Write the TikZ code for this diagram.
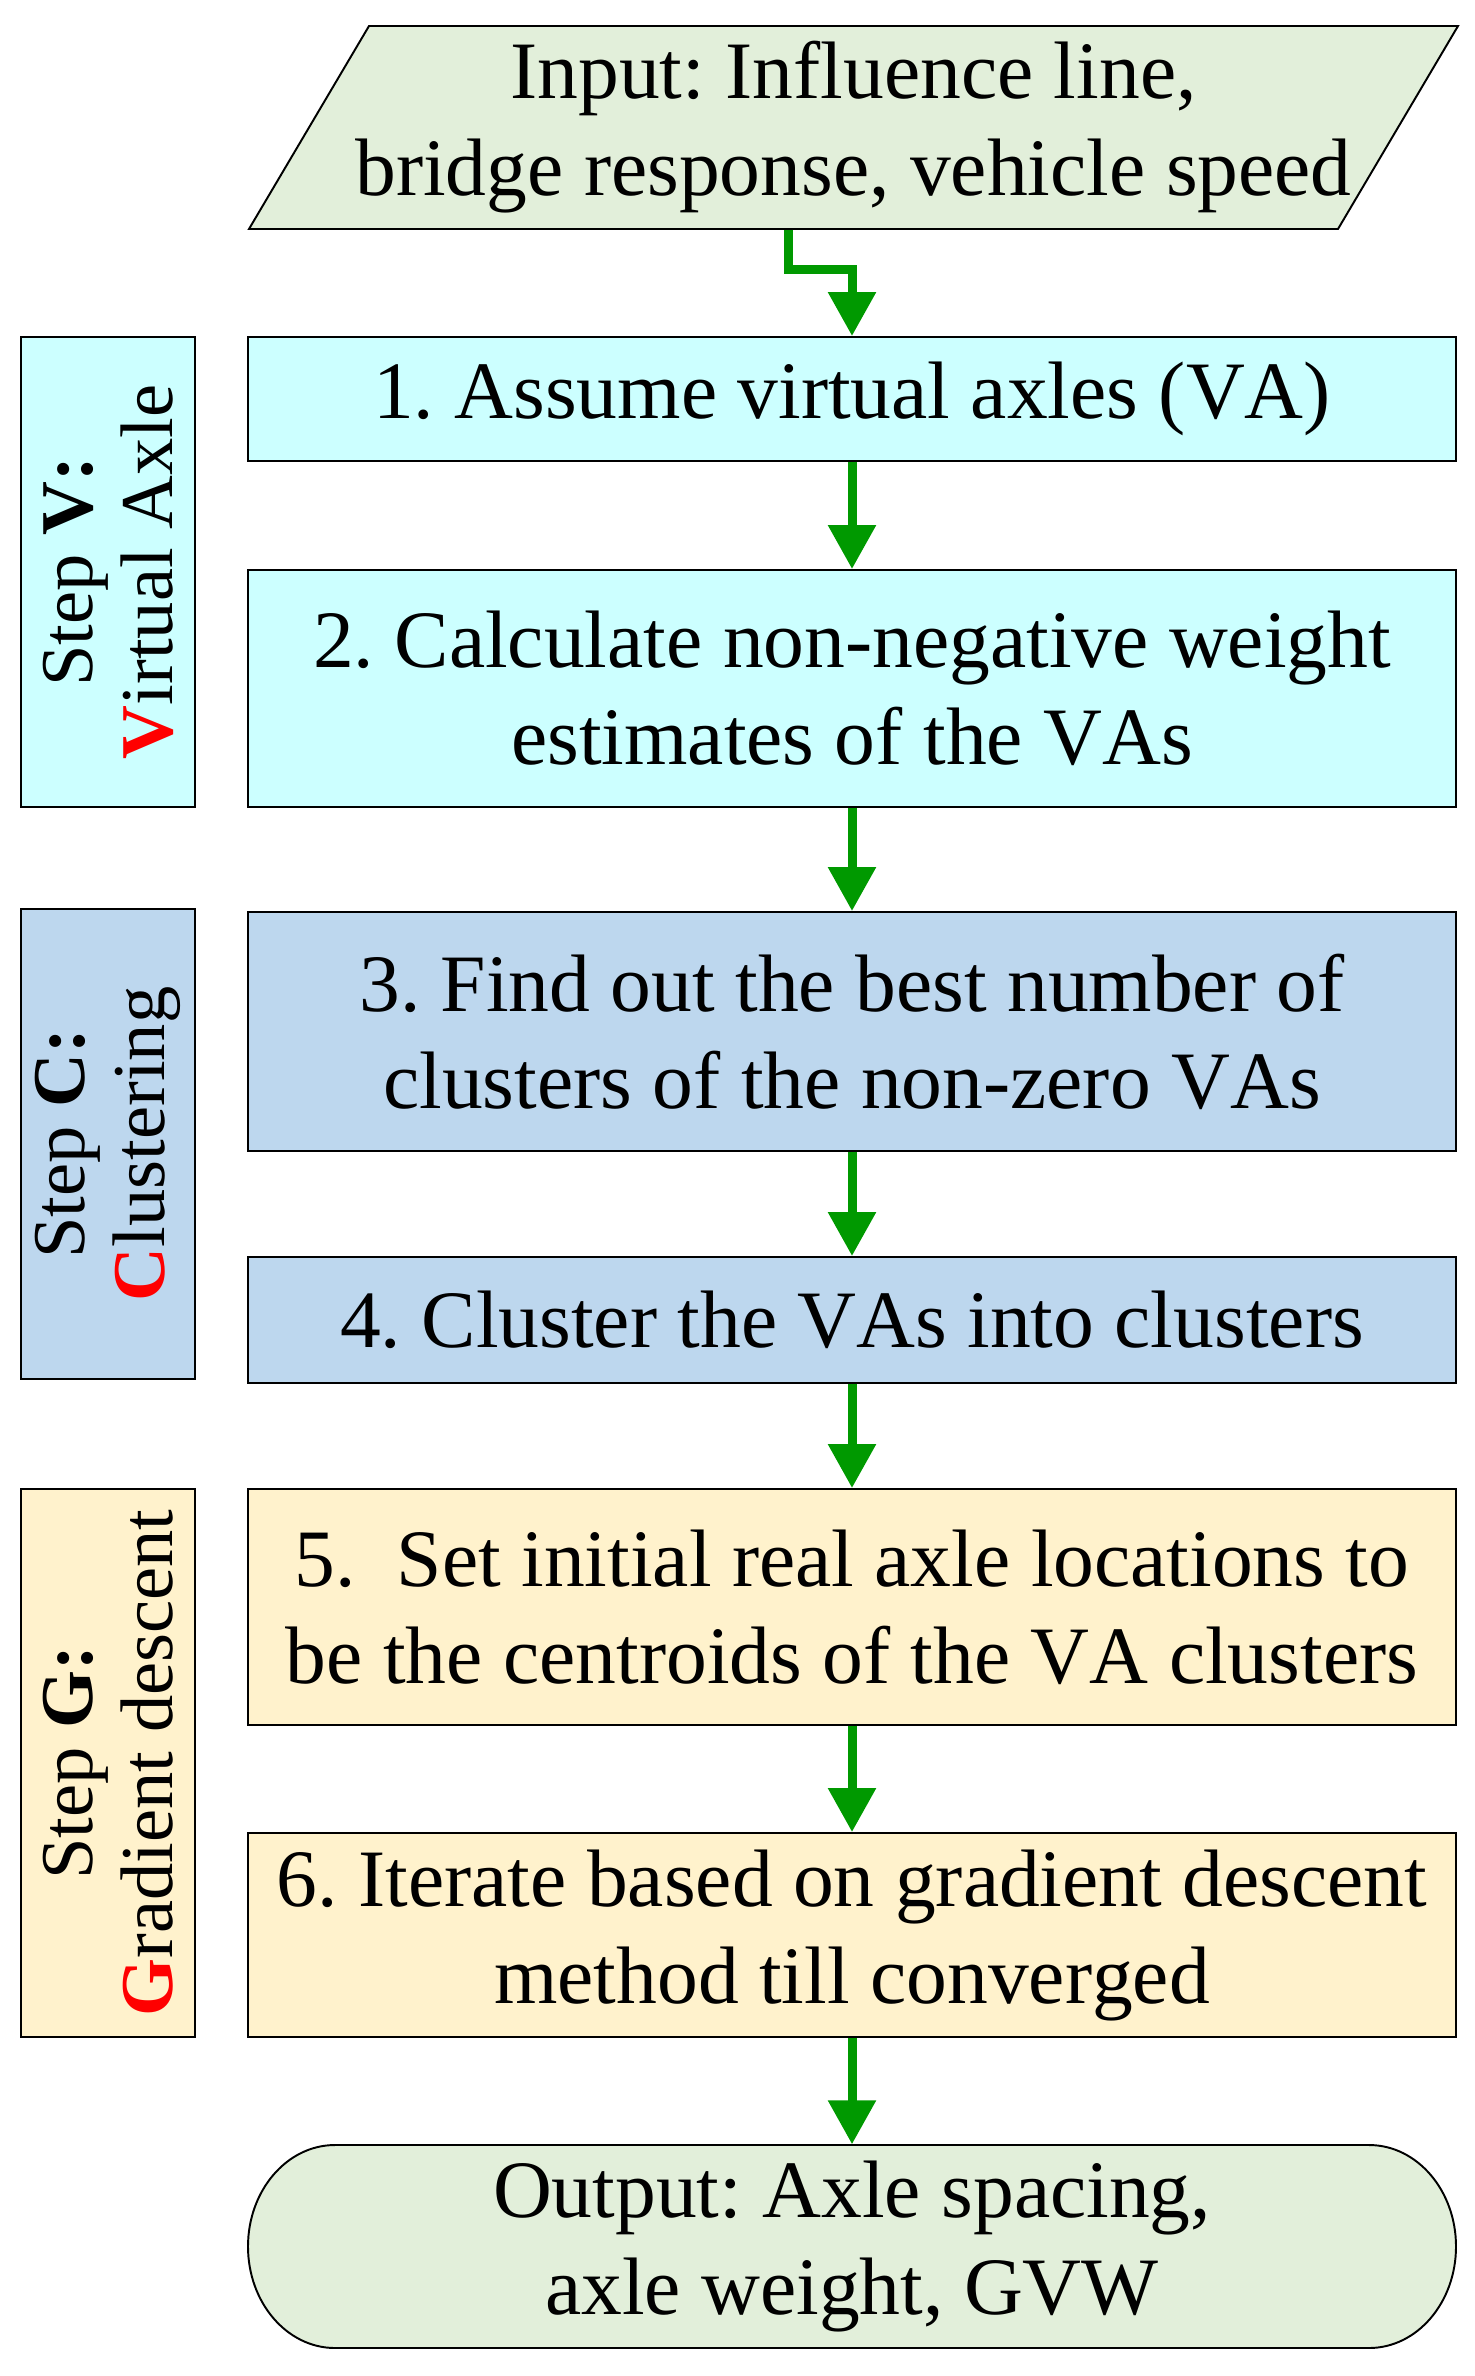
\documentclass[tikz,border=0pt]{standalone}
\usepackage{fontspec}
\setmainfont{Liberation Serif}[Kerning=Off]
\usepackage{xcolor}
\usetikzlibrary{arrows.meta}
\definecolor{ioGreen}{HTML}{E2EFDA}
\definecolor{vaCyan}{HTML}{CCFFFF}
\definecolor{clBlue}{HTML}{BDD7EE}
\definecolor{gdYellow}{HTML}{FFF2CC}
\definecolor{flowGreen}{HTML}{009900}
\frenchspacing

\begin{document}
\begin{tikzpicture}[
  box/.style={draw, line width=0.55pt, minimum width=12.08cm, inner sep=0pt,
    align=center, font=\fontsize{23.2}{27.6}\selectfont},
  side/.style={draw, line width=0.55pt, rotate=90, minimum height=1.74cm,
    inner sep=0pt, align=center, font=\fontsize{21.2}{22.8}\selectfont},
  io/.style={inner sep=0pt, align=center, font=\fontsize{23.2}{27.6}\selectfont},
  flow/.style={flowGreen, line width=0.09cm, -{Triangle[length=0.44cm,width=0.46cm]}}
]
\useasboundingbox (0,0) rectangle (14.74,-23.76);

% input
\draw[fill=ioGreen, line width=0.55pt] (2.49,-2.29) -- (3.69,-0.26) -- (14.58,-0.26) -- (13.38,-2.29) -- cycle;
\node[io, minimum width=10.89cm, minimum height=2.03cm] (input) at (8.535,-1.275)
  {Input: Influence line,\\bridge response, vehicle speed};

% step V
\node[box, fill=vaCyan, minimum height=1.24cm] (assume) at (8.52,-3.99) {1. Assume virtual axles (VA)};
\node[box, fill=vaCyan, minimum height=2.37cm] (weight) at (8.52,-6.885)
  {2. Calculate non-negative weight\\estimates of the VAs};
\node[side, fill=vaCyan, minimum width=4.70cm] (stepV) at (1.08,-5.72)
  {Step \textbf{V:}\\\textbf{\textcolor{red}{V}}irtual Axle};

% step C
\node[box, fill=clBlue, minimum height=2.39cm] (number) at (8.52,-10.315)
  {3. Find out the best number of\\clusters of the non-zero VAs};
\node[box, fill=clBlue, minimum height=1.26cm] (cluster) at (8.52,-13.20) {4. Cluster the VAs into clusters};
\node[side, fill=clBlue, minimum width=4.70cm] (stepC) at (1.08,-11.44)
  {Step \textbf{C:}\\\textbf{\textcolor{red}{C}}lustering};

% step G
\node[box, fill=gdYellow, minimum height=2.36cm] (init) at (8.52,-16.07)
  {5.\ \ Set initial real axle locations to\\be the centroids of the VA clusters};
\node[box, fill=gdYellow, minimum height=2.04cm] (iterate) at (8.52,-19.35)
  {6. Iterate based on gradient descent\\method till converged};
\node[side, fill=gdYellow, minimum width=5.48cm] (stepG) at (1.08,-17.63)
  {Step \textbf{G:}\\\textbf{\textcolor{red}{G}}radient descent};

% output
\draw[fill=ioGreen, line width=0.55pt] (3.35,-21.45) -- (13.69,-21.45)
  arc[start angle=90, end angle=-90, x radius=0.87, y radius=1.015] -- (3.35,-23.48)
  arc[start angle=270, end angle=90, x radius=0.87, y radius=1.015] -- cycle;
\node[io, minimum width=10.34cm, minimum height=2.03cm] (output) at (8.52,-22.465)
  {Output: Axle spacing,\\axle weight, GVW};

% arrows
\draw[flow] ([xshift=-0.655cm]input.south) -- ++(0,-0.40) -| (assume.north);
\draw[flow] (assume.south) -- (weight.north);
\draw[flow] (weight.south) -- (number.north);
\draw[flow] (number.south) -- (cluster.north);
\draw[flow] (cluster.south) -- (init.north);
\draw[flow] (init.south) -- (iterate.north);
\draw[flow] (iterate.south) -- (output.north);
\end{tikzpicture}
\end{document}
